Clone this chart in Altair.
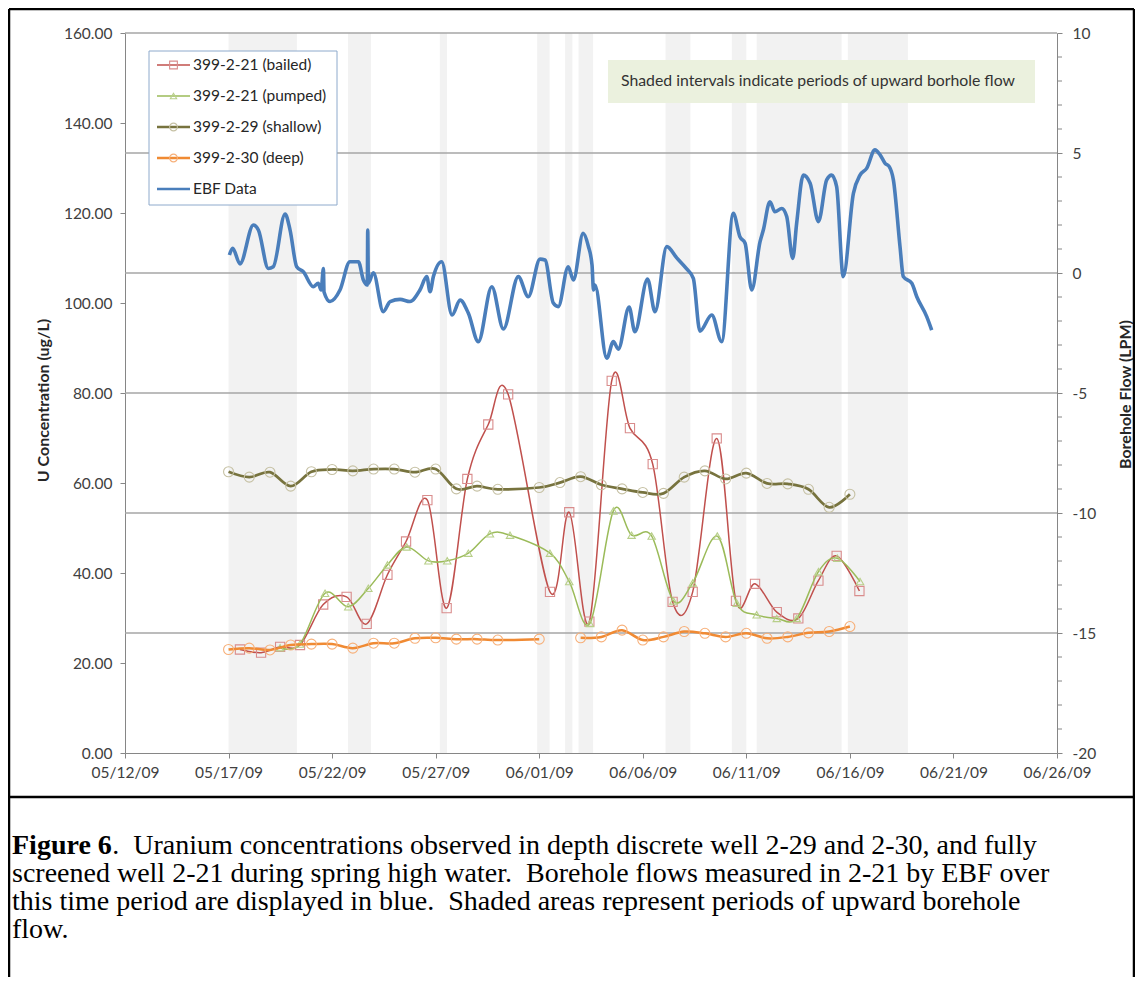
import altair as alt
import pandas as pd

# ---------------- data (x = days after 05/12/09) ----------------
x_tick_labels = ["05/12/09", "05/17/09", "05/22/09", "05/27/09", "06/01/09",
                 "06/06/09", "06/11/09", "06/16/09", "06/21/09", "06/26/09"]
x_tick_days = [0, 5, 10, 15, 20, 25, 30, 35, 40, 45]
conc_ticks = [0, 20, 40, 60, 80, 100, 120, 140, 160]
flow_ticks = [-20, -15, -10, -5, 0, 5, 10]
flow_grid = [-15, -10, -5, 0, 5, 10]
flow_minor = [v for v in range(-20, 11) if v % 5 != 0]

# shaded intervals (upward borehole flow)
shade_start = [5.0, 10.77, 15.2, 19.9, 21.25, 21.9, 26.1, 29.3, 30.5, 34.9]
shade_end = [8.3, 11.88, 15.55, 20.5, 21.6, 22.6, 27.3, 30.0, 34.6, 37.8]

bailed_day = [5.55, 6.57, 7.49, 8.45, 9.57, 10.7, 11.67, 12.67, 13.57, 14.6,
              15.53, 16.53, 17.54, 18.5, 20.52, 21.45, 22.42, 23.5, 24.38, 25.48,
              26.44, 27.41, 28.57, 29.5, 30.42, 31.47, 32.51, 33.48, 34.36, 35.46]
bailed_conc = [23.0, 22.3, 23.6, 24.0, 33.0, 34.7, 28.7, 39.6, 47.0, 56.2,
               32.2, 60.9, 73.0, 79.7, 35.8, 53.5, 29.2, 82.7, 72.2, 64.2,
               33.6, 35.8, 69.9, 33.8, 37.6, 31.3, 29.9, 38.3, 43.8, 36.0]

pumped_day = [7.49, 8.45, 9.66, 10.78, 11.75, 12.67, 13.6, 14.65, 15.56, 16.58,
              17.62, 18.59, 20.52, 21.45, 22.45, 23.58, 24.46, 25.43, 26.48, 27.41,
              28.6, 29.54, 30.5, 31.47, 32.43, 33.48, 34.39, 35.49]
pumped_conc = [23.4, 24.2, 35.5, 32.5, 36.6, 41.8, 45.8, 42.7, 42.7, 44.4,
               48.7, 48.4, 44.4, 38.1, 28.8, 53.8, 48.4, 48.2, 33.8, 37.8,
               48.2, 33.3, 30.7, 29.9, 29.9, 40.3, 43.3, 38.1]

shallow_day = [5, 6, 7, 8, 9, 10, 11, 12, 13, 14, 15, 16, 17, 18, 20,
               21, 22, 23, 24, 25, 26, 27, 28, 29, 30, 31, 32, 33, 34, 35]
shallow_conc = [62.5, 61.3, 62.4, 59.3, 62.5, 63.0, 62.7, 63.1, 63.1, 62.4,
                63.1, 58.7, 59.3, 58.6, 59.0, 60.1, 61.4, 59.6, 58.7, 57.9,
                57.7, 61.3, 62.7, 60.9, 62.2, 59.9, 59.8, 58.6, 54.6, 57.5]

deep_day_1 = [5, 6, 7, 8, 9, 10, 11, 12, 13, 14, 15, 16, 17, 18, 20]
deep_conc_1 = [23.0, 23.3, 22.9, 24.0, 24.2, 24.2, 23.3, 24.4, 24.4, 25.5,
               25.6, 25.3, 25.3, 25.1, 25.3]
deep_day_2 = [22, 23, 24, 25, 26, 27, 28, 29, 30, 31, 32, 33, 34, 35]
deep_conc_2 = [25.6, 25.8, 27.3, 25.1, 25.8, 27.0, 26.6, 25.8, 26.6, 25.5,
               25.8, 26.7, 27.0, 28.1]

ebf_day = [5.04, 5.20, 5.55, 6.20, 6.44, 6.92, 7.16, 7.73, 7.97, 8.29,
           8.61, 9.09, 9.33, 9.47, 9.58, 9.61, 9.90, 10.38, 10.86, 11.27,
           11.51, 11.70, 11.72, 11.75, 11.99, 12.47, 12.80, 13.28, 13.76, 14.24,
           14.57, 14.73, 14.89, 15.29, 15.79, 16.18, 16.58, 17.06, 17.71, 18.27,
           18.99, 19.47, 20.04, 20.28, 20.68, 20.92, 21.40, 21.65, 22.12, 22.37,
           22.55, 22.62, 22.69, 23.26, 23.58, 23.82, 24.34, 24.62, 25.23, 25.59,
           26.16, 26.64, 27.12, 27.44, 27.76, 28.33, 28.81, 29.37, 29.69, 29.94,
           30.26, 30.66, 30.82, 31.14, 31.38, 31.71, 31.95, 32.24, 32.43, 32.75,
           33.08, 33.48, 33.88, 34.12, 34.36, 34.68, 35.17, 35.49, 35.81, 36.21,
           36.46, 36.70, 36.90, 37.10, 37.42, 37.58, 37.99, 38.23, 38.71, 38.95]
ebf_flow = [0.75, 1.03, 0.38, 2.0, 1.79, 0.19, 0.26, 2.46, 1.79, 0.26,
            0.05, -0.57, -0.43, -0.71, 0.19, -0.79, -1.19, -0.71, 0.47, 0.47,
            -0.29, -0.5, 1.79, -0.43, 0.01, -1.61, -1.19, -1.10, -1.19, -0.71,
            -0.15, -0.78, -0.15, 0.47, -1.75, -1.13, -1.68, -2.86, -0.57, -2.33,
            -0.15, -0.99, 0.58, 0.54, -1.25, -1.40, 0.26, -0.29, 1.65, 1.12,
            0.33, -0.71, -0.5, -3.55, -2.86, -3.17, -1.42, -2.45, -0.25, -1.61,
            1.10, 0.63, 0.17, -0.22, -2.42, -1.75, -2.86, 2.49, 1.51, 1.24,
            -0.71, 1.30, 1.79, 2.97, 2.55, 2.69, 2.35, 0.61, 2.07, 4.08,
            3.74, 2.14, 3.88, 4.08, 3.60, -0.15, 3.32, 4.08, 4.36, 5.13,
            4.92, 4.57, 4.43, 3.88, 1.10, -0.15, -0.43, -0.99, -1.82, -2.38]

legend_labels = ["399-2-21 (bailed)", "399-2-21 (pumped)", "399-2-29 (shallow)",
                 "399-2-30 (deep)", "EBF Data"]
note_text = "Shaded intervals indicate periods of upward borhole flow"
caption_bold = "Figure 6"
caption_lines = [
    ".\u00a0 Uranium concentrations observed in depth discrete well 2-29 and 2-30, and fully",
    "screened well 2-21 during spring high water.\u00a0 Borehole flows measured in 2-21 by EBF over",
    "this time period are displayed in blue.\u00a0 Shaded areas represent periods of upward borehole",
    "flow.",
]

# ---------------- styling ----------------
W, H = 932, 720
FONT = "Lato"
LAB_SIZE = 15.5
C_BAILED, M_BAILED = "#C0504D", "#D98C8C"
C_PUMPED, M_PUMPED = "#9BBB59", "#B8CF8A"
C_SHALLOW, M_SHALLOW = "#77733E", "#C6C1A4"
C_DEEP, M_DEEP = "#F08A33", "#F7B07A"
C_EBF = "#4A7EBB"

x_scale = alt.Scale(domain=[0, 45], nice=False, zero=False)
x_label_expr = "[" + ",".join("'%s'" % l for l in x_tick_labels) + "][round(datum.value / 5)]"
x_axis = alt.Axis(values=x_tick_days, labelExpr=x_label_expr, tickSize=5,
                  labelPadding=7, labelFlush=False, labelOverlap=False, title=None)

conc_scale = alt.Scale(domain=[0, 160], nice=False, zero=False)
conc_axis = alt.Axis(orient="left", values=conc_ticks, format=".2f", tickSize=5,
                     labelPadding=8, labelFlush=False, title="U Concentration (ug/L)", titleAngle=270,
                     titleX=-82, titleY=367, titleAlign="center", titleBaseline="middle")

flow_scale = alt.Scale(domain=[-20, 10], nice=False, zero=False)
flow_axis = alt.Axis(orient="right", values=flow_ticks,
                     labelExpr="datum.value < 0 ? '-' + abs(datum.value) : '' + datum.value",
                     tickSize=5, labelPadding=10, labelFlush=False, title="Borehole Flow (LPM)",
                     titleAngle=270, titleX=68, titleY=361, titleAlign="center",
                     titleBaseline="middle")


def X(f):
    return alt.X(f + ":Q", scale=x_scale, axis=x_axis)


def CY(f):
    return alt.Y(f + ":Q", scale=conc_scale, axis=conc_axis)


def FY(f):
    return alt.Y(f + ":Q", scale=flow_scale, axis=flow_axis)


# ---------------- group A: flow scale ----------------
shade_df = pd.DataFrame({"s": shade_start, "e": shade_end})
shade = alt.Chart(shade_df).mark_rect(color="#F2F2F2").encode(
    x=X("s"), x2="e:Q", y=alt.value(0), y2=alt.value(H))

grid = alt.Chart(pd.DataFrame({"g": flow_grid})).mark_rule(
    color="#A6A6A6", strokeWidth=1.3).encode(x=alt.value(0), x2=alt.value(W), y=FY("g"))

minor = alt.Chart(pd.DataFrame({"m": flow_minor})).mark_rule(
    color="#868686", strokeWidth=1).encode(x=alt.value(W), x2=alt.value(W + 5), y=FY("m"))

note_df = pd.DataFrame({"t": [note_text]})
note_box = alt.Chart(note_df).mark_rect(fill="#EBF1DE").encode(
    x=alt.value(483), x2=alt.value(910), y=alt.value(27), y2=alt.value(70))
note = alt.Chart(note_df).mark_text(
    font=FONT, fontSize=15.8, color="#333333", align="left", baseline="middle").encode(
    x=alt.value(496), y=alt.value(48), text="t:N")

ebf_df = pd.DataFrame({"day": ebf_day, "flow": ebf_flow})
ebf = alt.Chart(ebf_df).mark_line(color=C_EBF, strokeWidth=3.6, interpolate="monotone").encode(
    x=X("day"), y=FY("flow"))

group_a = alt.layer(shade, grid, minor, note_box, note, ebf)


# ---------------- group B: concentration scale ----------------
def series(day, conc, color, lw, shape, mcolor, msize, seg=None):
    df = pd.DataFrame({"day": day, "conc": conc})
    enc = dict(x=X("day"), y=CY("conc"))
    if seg is not None:
        df["seg"] = seg
        line = alt.Chart(df).mark_line(color=color, strokeWidth=lw, interpolate="cardinal").encode(
            detail="seg:N", **enc)
    else:
        line = alt.Chart(df).mark_line(color=color, strokeWidth=lw, interpolate="cardinal").encode(**enc)
    pts = alt.Chart(df).mark_point(shape=shape, filled=False, stroke=mcolor, strokeWidth=1.1,
                                   size=msize, opacity=1).encode(**enc)
    return [line, pts]


layers_b = []
layers_b += series(bailed_day, bailed_conc, C_BAILED, 1.5, "square", M_BAILED, 85)
layers_b += series(pumped_day, pumped_conc, C_PUMPED, 1.5, "triangle-up", M_PUMPED, 55)
layers_b += series(shallow_day, shallow_conc, C_SHALLOW, 2.75, "circle", M_SHALLOW, 100)
layers_b += series(deep_day_1 + deep_day_2, deep_conc_1 + deep_conc_2, C_DEEP, 2.5, "circle",
                   M_DEEP, 100, seg=[1] * len(deep_day_1) + [2] * len(deep_day_2))

# legend (drawn by hand, as in the original)
leg_df = pd.DataFrame({"t": [""]})
layers_b.append(alt.Chart(leg_df).mark_rect(fill="white", stroke="#8EAACC", strokeWidth=1).encode(
    x=alt.value(24), x2=alt.value(212), y=alt.value(18), y2=alt.value(172)))
leg_style = [
    (C_BAILED, 1.5, "square", M_BAILED, 60),
    (C_PUMPED, 1.5, "triangle-up", M_PUMPED, 40),
    (C_SHALLOW, 2.5, "circle", M_SHALLOW, 60),
    (C_DEEP, 2.5, "circle", M_DEEP, 60),
    (C_EBF, 2.5, None, None, 0),
]
for i, (lab, (col, lw, shp, mcol, msz)) in enumerate(zip(legend_labels, leg_style)):
    ly = 32 + 31 * i
    d = pd.DataFrame({"label": [lab]})
    layers_b.append(alt.Chart(d).mark_rule(color=col, strokeWidth=lw).encode(
        x=alt.value(32), x2=alt.value(65), y=alt.value(ly)))
    if shp:
        layers_b.append(alt.Chart(d).mark_point(shape=shp, filled=False, stroke=mcol, strokeWidth=1.1,
                                                size=msz, opacity=1).encode(
            x=alt.value(48.5), y=alt.value(ly)))
    layers_b.append(alt.Chart(d).mark_text(font=FONT, fontSize=15.5, color="#262626", align="left",
                                           baseline="middle").encode(
        x=alt.value(68), y=alt.value(ly), text="label:N"))

# figure frame and caption
frame = pd.DataFrame({"t": [""]})
layers_b.append(alt.Chart(frame).mark_rule(color="black", strokeWidth=2.5).encode(
    x=alt.value(-116), x2=alt.value(1009), y=alt.value(-24)))
layers_b.append(alt.Chart(frame).mark_rule(color="black", strokeWidth=2.5).encode(
    x=alt.value(-116), y=alt.value(-24), y2=alt.value(944)))
layers_b.append(alt.Chart(frame).mark_rule(color="black", strokeWidth=2.5).encode(
    x=alt.value(1009), y=alt.value(-24), y2=alt.value(944)))
layers_b.append(alt.Chart(frame).mark_rule(color="black", strokeWidth=2.5).encode(
    x=alt.value(-116), x2=alt.value(1009), y=alt.value(764)))

CAP_SIZE = 28
CAP_X = -113
BOLD_EM = 3.583  # width of "Figure 6" in em (Times bold metrics)
cap_y = [813, 841, 869, 897]
layers_b.append(alt.Chart(pd.DataFrame({"t": [caption_bold]})).mark_text(
    font="Liberation Serif", fontSize=CAP_SIZE, fontWeight="bold", color="black",
    align="left", baseline="middle").encode(x=alt.value(CAP_X), y=alt.value(cap_y[0]), text="t:N"))
for i, line in enumerate(caption_lines):
    xoff = CAP_X + (BOLD_EM * CAP_SIZE if i == 0 else 0)
    layers_b.append(alt.Chart(pd.DataFrame({"t": [line]})).mark_text(
        font="Liberation Serif", fontSize=CAP_SIZE, color="black",
        align="left", baseline="middle").encode(x=alt.value(xoff), y=alt.value(cap_y[i]), text="t:N"))

group_b = alt.layer(*layers_b)

chart = alt.layer(group_a, group_b).resolve_scale(y="independent").properties(
    width=W, height=H,
    autosize=alt.AutoSizeParams(type="none"),
    padding={"left": 117, "top": 25, "right": 78, "bottom": 224},
).configure_view(strokeWidth=0).configure_axis(
    labelFont=FONT, labelFontSize=LAB_SIZE, labelColor="#404040",
    titleFont=FONT, titleFontSize=16, titleFontWeight="bold", titleColor="#262626",
    domainColor="#868686", tickColor="#868686", grid=False,
)

chart.save("out.html", embed_options={"renderer": "svg", "actions": False})
